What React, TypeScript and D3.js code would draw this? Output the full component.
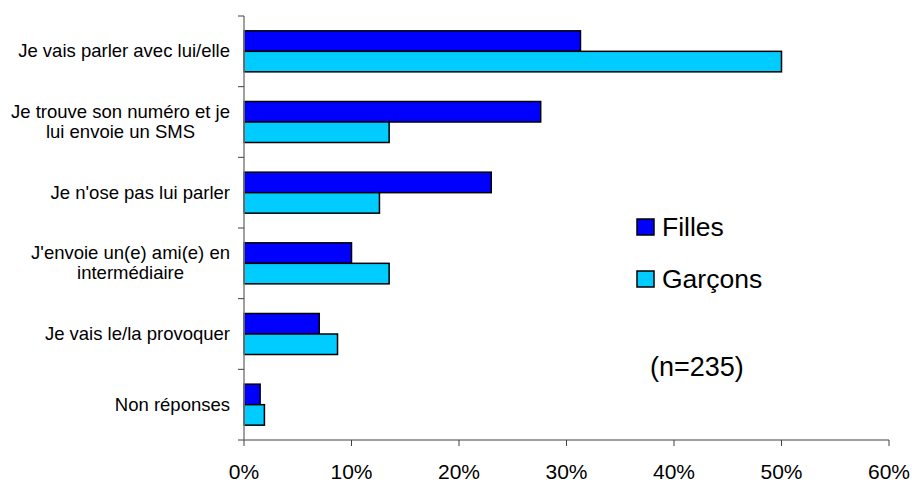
import React from "react";
import * as d3 from "d3";

const categories = [
  ["Je vais parler avec lui/elle"],
  ["Je trouve son numéro et je", "lui envoie un SMS"],
  ["Je n'ose pas lui parler"],
  ["J'envoie un(e) ami(e) en", "intermédiaire"],
  ["Je vais le/la provoquer"],
  ["Non réponses"],
];
const filles = [31.3, 27.6, 23.0, 10.0, 7.0, 1.5];
const garcons = [50.0, 13.5, 12.6, 13.5, 8.7, 1.9];
const xTicks = [0, 10, 20, 30, 40, 50, 60];
const seriesNames = ["Filles", "Garçons"];
const colors = ["#0000FF", "#00CCFF"];

const FONT = "Arial, 'Liberation Sans', sans-serif";

function measure(text: string, size: number) {
  const c = document.createElement("canvas").getContext("2d")!;
  c.font = `${size}px Arial, 'Liberation Sans'`;
  return c.measureText(text).width;
}

export default function App() {
  const W = 912, H = 484;
  const x = d3.scaleLinear().domain([0, 60]).range([244, 889]);
  const y = d3.scaleBand<number>().domain(d3.range(categories.length)).range([16, 440]);
  const barH = 20.5;
  const labelRight = 230;
  const catSize = 18.5;

  return (
    <svg width={W} height={H} style={{ position: "absolute", left: 0, top: 0, background: "#fff" }} fontFamily={FONT}>
      {/* bars */}
      {categories.map((_, i) => {
        const c = y(i)! + y.bandwidth() / 2;
        return (
          <g key={i}>
            <rect x={x(0)} y={c - barH} width={x(filles[i]) - x(0)} height={barH} fill={colors[0]} stroke="#000" strokeWidth={1.5} />
            <rect x={x(0)} y={c} width={x(garcons[i]) - x(0)} height={barH} fill={colors[1]} stroke="#000" strokeWidth={1.5} />
          </g>
        );
      })}
      {/* y axis */}
      <line x1={x(0)} x2={x(0)} y1={16} y2={440} stroke="#808080" strokeWidth={1.5} />
      {d3.range(categories.length + 1).map((i) => {
        const yy = 16 + i * y.step();
        return <line key={i} x1={x(0) - 6} x2={x(0)} y1={yy} y2={yy} stroke="#404040" strokeWidth={1} />;
      })}
      {/* x axis */}
      <line x1={x(0)} x2={x(60)} y1={440} y2={440} stroke="#808080" strokeWidth={1.5} />
      {xTicks.map((t) => (
        <g key={t}>
          <line x1={x(t)} x2={x(t)} y1={440} y2={446} stroke="#404040" strokeWidth={1} />
          <text x={x(t)} y={479} textAnchor="middle" fontSize={21} fill="#000">{t}%</text>
        </g>
      ))}
      {/* category labels */}
      {categories.map((lines, i) => {
        const c = y(i)! + y.bandwidth() / 2;
        const maxW = Math.max(...lines.map((l) => measure(l, catSize)));
        const cx = labelRight - maxW / 2;
        const lh = 20;
        const y0 = lines.length === 1 ? c + 6 : c - 4;
        return lines.map((l, j) => (
          <text key={i + "-" + j} x={cx} y={y0 + j * lh} textAnchor="middle" fontSize={catSize} fill="#000">{l}</text>
        ));
      })}
      {/* legend */}
      {seriesNames.map((n, i) => (
        <g key={n}>
          <rect x={637} y={219 + i * 52} width={17} height={16} fill={colors[i]} stroke="#000" strokeWidth={1.5} />
          <text x={662} y={236 + i * 51.5} fontSize={26.5} fill="#000">{n}</text>
        </g>
      ))}
      <text x={650} y={376} fontSize={27} fill="#000">(n=235)</text>
    </svg>
  );
}
